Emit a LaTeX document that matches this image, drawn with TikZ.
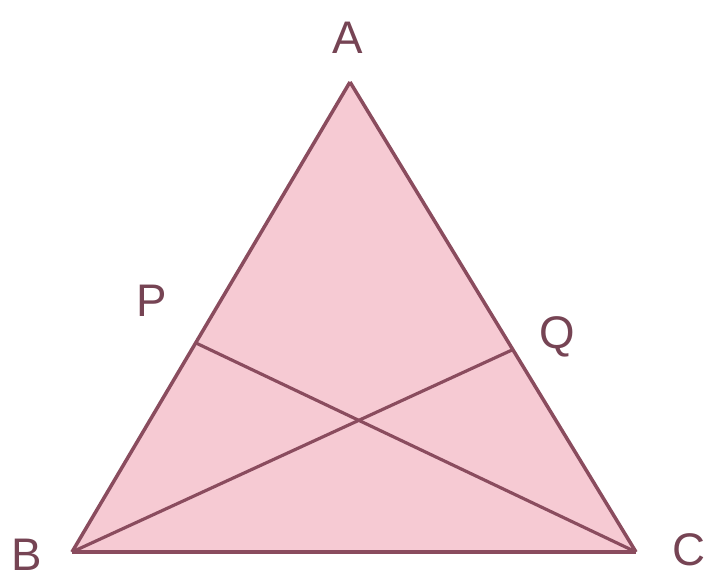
\documentclass[tikz,border=0pt]{standalone}
\usepackage{fontspec}
\setmainfont{Liberation Sans}
\usepackage{tikz}
\usetikzlibrary{positioning}

\definecolor{trifill}{RGB}{246,202,211}
\definecolor{triline}{RGB}{138,76,94}
\definecolor{lbltext}{RGB}{118,68,84}

\begin{document}
\begin{tikzpicture}[
  x=0.02cm,y=-0.02cm,
  side/.style={draw=triline,line width=2pt,line join=round},
  cevian/.style={draw=triline,line width=1.8pt},
  lbl/.style={text=lbltext,font=\fontsize{26}{30}\selectfont,inner sep=0pt},
]
  \useasboundingbox (0,0) rectangle (708,586);

  % Vertices and points on the sides
  \coordinate (A) at (350,82);
  \coordinate (B) at (72,552);
  \coordinate (C) at (636,552);
  \coordinate (P) at (196,343);
  \coordinate (Q) at (512,350);

  % Triangle
  \fill[trifill] (A) -- (B) -- (C) -- cycle;
  \draw[side] (A) -- (B);
  \draw[side] (A) -- (C);
  \draw[side,line width=2.6pt] (B) -- (C);

  % Lines through the sides
  \draw[cevian] (B) -- (Q);
  \draw[cevian] (C) -- (P);

  % Labels
  \node[lbl] (lA) at (348,38) {A};
  \node[lbl] (lB) at (27,555) {B};
  \node[lbl] (lC) at (689,550) {C};
  \node[lbl] (lP) at (152,301) {P};
  \node[lbl] (lQ) at (557,337) {Q};
\end{tikzpicture}
\end{document}
